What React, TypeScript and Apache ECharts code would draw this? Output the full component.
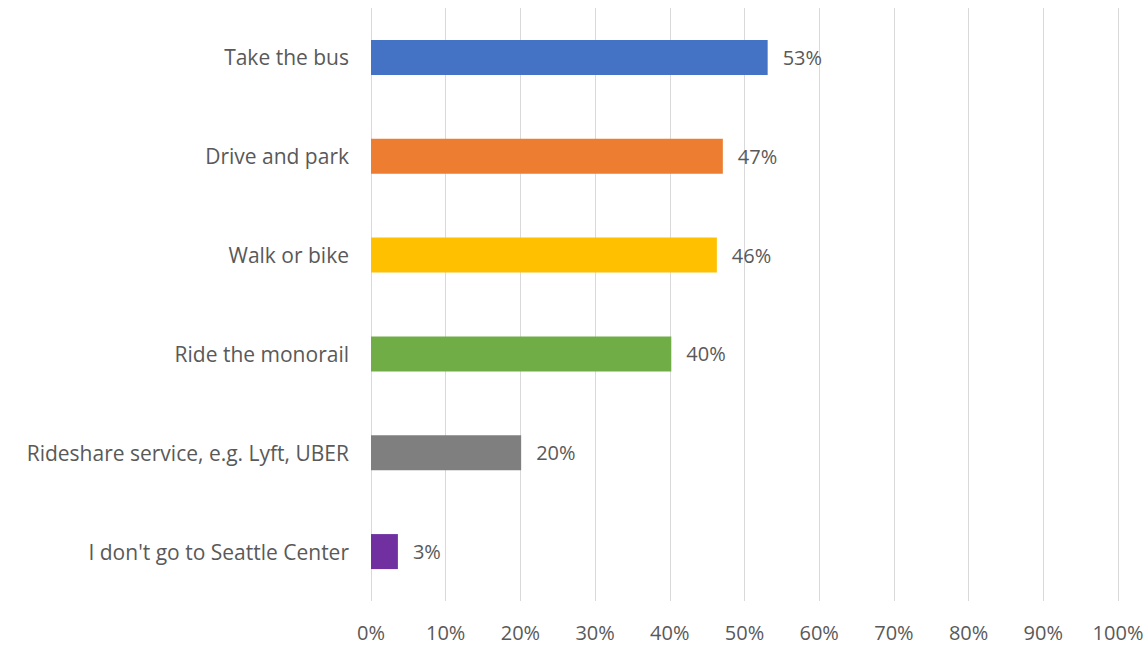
import React, { useEffect, useRef } from "react";
import * as echarts from "echarts";

const categories = [
  "Take the bus",
  "Drive and park",
  "Walk or bike",
  "Ride the monorail",
  "Rideshare service, e.g. Lyft, UBER",
  "I don't go to Seattle Center",
];
const values = [53.1, 47.1, 46.3, 40.2, 20.1, 3.6];
const valueLabels = ["53%", "47%", "46%", "40%", "20%", "3%"];
const colors = ["#4472C4", "#ED7D31", "#FFC000", "#70AD47", "#7F7F7F", "#7030A0"];
const xTicks = [0, 10, 20, 30, 40, 50, 60, 70, 80, 90, 100];

export default function App() {
  const ref = useRef<HTMLDivElement>(null);
  useEffect(() => {
    document.body.style.margin = "0";
    document.body.style.overflow = "hidden";
    const chart = echarts.init(ref.current!, null, { renderer: "svg" });
    const font = "'Open Sans', sans-serif";
    chart.setOption({
      animation: false,
      grid: {
        left: 371,
        right: 29,
        top: 8,
        bottom: 46,
        containLabel: false,
        outerBoundsMode: "none",
      },
      xAxis: {
        type: "value",
        min: xTicks[0],
        max: xTicks[xTicks.length - 1],
        interval: 10,
        axisLine: { show: false },
        axisTick: { show: false },
        splitLine: { show: true, lineStyle: { color: "#D9D9D9", width: 1 } },
        axisLabel: {
          formatter: (v: number) => v + "%",
          color: "#595959",
          fontFamily: font,
          fontSize: 20,
          margin: 21,
        },
      },
      yAxis: {
        type: "category",
        data: categories,
        inverse: true,
        axisLine: { show: false },
        axisTick: { show: false },
        axisLabel: { color: "#595959", fontFamily: font, fontSize: 21, margin: 22 },
      },
      series: [
        {
          type: "bar",
          barWidth: 35,
          data: values.map((v, i) => ({ value: v, itemStyle: { color: colors[i] } })),
          label: {
            show: true,
            position: "right",
            distance: 15,
            color: "#595959",
            fontFamily: font,
            fontSize: 20,
            formatter: (p: any) => valueLabels[p.dataIndex],
          },
        },
      ],
    });
    return () => chart.dispose();
  }, []);
  return <div ref={ref} style={{ width: 1147, height: 647 }} />;
}
